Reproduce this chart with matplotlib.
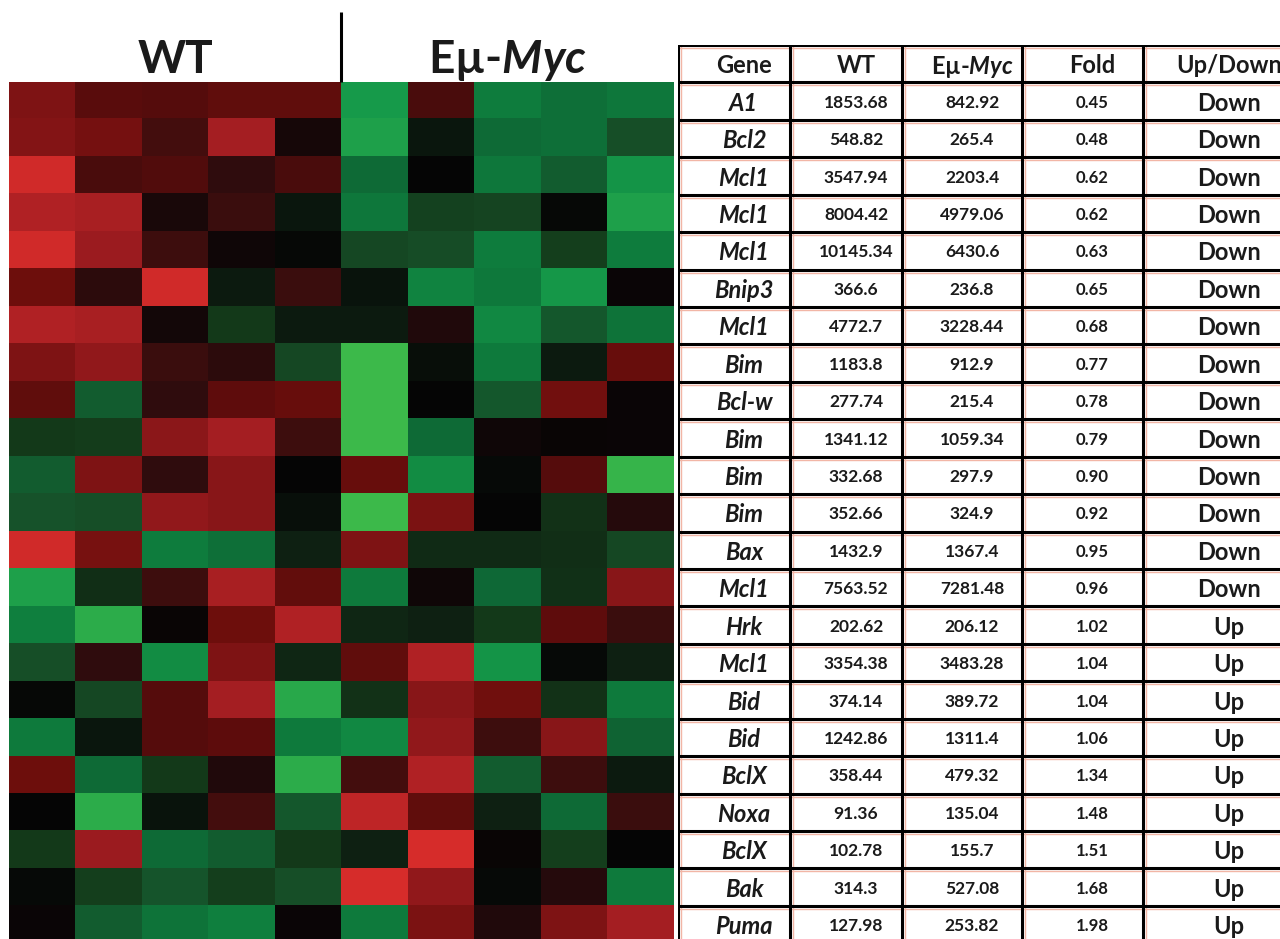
import matplotlib
matplotlib.use("Agg")
import matplotlib.pyplot as plt
import matplotlib.transforms as mtransforms
from matplotlib.colors import LinearSegmentedColormap
import numpy as np

# ---------------------------------------------------------------- data
genes = ["A1", "Bcl2", "Mcl1", "Mcl1", "Mcl1", "Bnip3", "Mcl1", "Bim", "Bcl-w",
         "Bim", "Bim", "Bim", "Bax", "Mcl1", "Hrk", "Mcl1", "Bid", "Bid", "BclX",
         "Noxa", "BclX", "Bak", "Puma"]
wt_mean = [1853.68, 548.82, 3547.94, 8004.42, 10145.34, 366.6, 4772.7, 1183.8,
           277.74, 1341.12, 332.68, 352.66, 1432.9, 7563.52, 202.62, 3354.38,
           374.14, 1242.86, 358.44, 91.36, 102.78, 314.3, 127.98]
myc_mean = [842.92, 265.4, 2203.4, 4979.06, 6430.6, 236.8, 3228.44, 912.9,
            215.4, 1059.34, 297.9, 324.9, 1367.4, 7281.48, 206.12, 3483.28,
            389.72, 1311.4, 479.32, 135.04, 155.7, 527.08, 253.82]
fold = [0.45, 0.48, 0.62, 0.62, 0.63, 0.65, 0.68, 0.77, 0.78, 0.79, 0.90, 0.92,
        0.95, 0.96, 1.02, 1.04, 1.04, 1.06, 1.34, 1.48, 1.51, 1.68, 1.98]
direction = ["Down"] * 14 + ["Up"] * 9

# relative expression per sample (positive = higher, negative = lower)
wt_samples = [
    [0.60, 0.42, 0.40, 0.45, 0.45],
    [0.62, 0.55, 0.30, 0.80, 0.08],
    [0.97, 0.33, 0.38, 0.20, 0.33],
    [0.85, 0.82, 0.10, 0.25, -0.10],
    [0.97, 0.75, 0.27, 0.05, -0.02],
    [0.50, 0.18, 0.97, -0.12, 0.25],
    [0.85, 0.82, 0.07, -0.28, -0.12],
    [0.60, 0.70, 0.25, 0.18, -0.35],
    [0.45, -0.47, 0.20, 0.44, 0.48],
    [-0.28, -0.29, 0.67, 0.80, 0.27],
    [-0.47, 0.60, 0.20, 0.65, 0.00],
    [-0.40, -0.38, 0.70, 0.65, -0.06],
    [0.97, 0.56, -0.68, -0.60, -0.15],
    [-0.88, -0.22, 0.27, 0.82, 0.46],
    [-0.70, -0.93, 0.02, 0.50, 0.85],
    [-0.38, 0.20, -0.77, 0.60, -0.18],
    [-0.02, -0.35, 0.40, 0.80, -0.92],
    [-0.67, -0.10, 0.40, 0.43, -0.67],
    [0.50, -0.57, -0.28, 0.13, -0.93],
    [0.00, -0.93, -0.08, 0.30, -0.43],
    [-0.28, 0.75, -0.57, -0.47, -0.28],
    [-0.03, -0.30, -0.42, -0.30, -0.38],
    [0.03, -0.47, -0.62, -0.70, 0.03],
]
myc_samples = [
    [-0.85, 0.33, -0.68, -0.60, -0.65],
    [-0.88, -0.10, -0.57, -0.60, -0.38],
    [-0.57, 0.00, -0.65, -0.47, -0.82],
    [-0.65, -0.32, -0.33, -0.02, -0.88],
    [-0.35, -0.37, -0.68, -0.30, -0.68],
    [-0.08, -0.72, -0.66, -0.83, 0.03],
    [-0.12, 0.13, -0.75, -0.43, -0.62],
    [-1.00, -0.05, -0.67, -0.12, 0.48],
    [-1.00, 0.00, -0.43, 0.53, 0.03],
    [-1.00, -0.57, 0.05, 0.02, 0.03],
    [0.48, -0.77, -0.03, 0.40, -0.97],
    [-1.00, 0.58, 0.00, -0.24, 0.15],
    [0.60, -0.20, -0.20, -0.22, -0.35],
    [-0.67, 0.05, -0.55, -0.23, 0.65],
    [-0.18, -0.15, -0.28, 0.44, 0.25],
    [0.45, 0.85, -0.82, -0.03, -0.15],
    [-0.24, 0.65, 0.52, -0.24, -0.67],
    [-0.75, 0.70, 0.27, 0.65, -0.52],
    [0.30, 0.85, -0.47, 0.27, -0.12],
    [0.90, 0.45, -0.15, -0.57, 0.25],
    [-0.15, 1.00, 0.02, -0.30, 0.00],
    [1.00, 0.70, -0.03, 0.15, -0.67],
    [-0.67, 0.58, 0.13, 0.60, 0.80],
]
group_labels = ["WT", "E\u00b5-$\\mathit{Myc}$"]
table_header = ["Gene", "WT", "E\u00b5-$\\mathit{Myc}$", "Fold", "Up/Down"]

# ---------------------------------------------------------------- style
plt.rcParams["font.family"] = ["Lato", "DejaVu Sans"]
plt.rcParams["mathtext.fontset"] = "custom"
plt.rcParams["mathtext.rm"] = "Lato:bold"
plt.rcParams["mathtext.it"] = "Lato:italic:bold"
plt.rcParams["mathtext.bf"] = "Lato:bold"

cmap = LinearSegmentedColormap.from_list("green_black_red", [
    (0.000, "#3CB94A"),
    (0.075, "#169A4A"),
    (0.165, "#0E7A3C"),
    (0.225, "#0E6836"),
    (0.300, "#17522A"),
    (0.360, "#143A1A"),
    (0.425, "#0E2012"),
    (0.500, "#050505"),
    (0.575, "#250A0C"),
    (0.625, "#3A0E0E"),
    (0.700, "#550C0C"),
    (0.750, "#6C0E0C"),
    (0.825, "#881618"),
    (0.900, "#A41E22"),
    (1.000, "#D62C2A"),
])

W, H = 1280, 939
fig = plt.figure(figsize=(W / 100, H / 100), dpi=100)
fig.patch.set_facecolor("white")


def px_axes(left, top, right, bottom):
    return fig.add_axes([left / W, 1 - bottom / H, (right - left) / W, (bottom - top) / H])


# ---------------------------------------------------------------- heatmap
n_rows = len(genes)
row_h = 37.45
heat_top = 82
heat_h = n_rows * row_h
heat = np.hstack([np.array(wt_samples), np.array(myc_samples)])

ax = px_axes(9, heat_top, 673, heat_top + heat_h)
ax.imshow(heat, cmap=cmap, vmin=-1, vmax=1, aspect="auto", interpolation="nearest")
ax.set_axis_off()

n_wt = len(wt_samples[0])
n_myc = len(myc_samples[0])
title_y = 1 + 9 / heat_h  # baseline a few px above the grid
tr = mtransforms.blended_transform_factory(ax.transData, ax.transAxes)
title_kw = dict(transform=tr, ha="center", va="baseline", fontsize=33,
                fontweight="bold", color="#1a1a1a")
ax.text((n_wt - 1) / 2, title_y, group_labels[0], **title_kw)
ax.text(n_wt + (n_myc - 1) / 2, title_y, group_labels[1], **title_kw)
ax.plot([n_wt - 0.5, n_wt - 0.5], [1, 1 + 70 / heat_h], transform=tr,
        color="black", lw=2.2, clip_on=False, solid_capstyle="butt")

# ---------------------------------------------------------------- table
col_edges = [0, 112, 224, 344, 465, 617]
tab_left, tab_top = 678, 45
tax = px_axes(tab_left, tab_top, tab_left + col_edges[-1], heat_top + heat_h)
tax.set_xlim(0, col_edges[-1])
tax.set_ylim(n_rows, -1)
tax.set_axis_off()

line_kw = dict(color="black", lw=2.2, solid_capstyle="projecting")
halo_kw = dict(color="#F2B6A6", lw=1.0)
off_v = mtransforms.ScaledTranslation(0, -3 / 100, fig.dpi_scale_trans)
off_h = mtransforms.ScaledTranslation(3 / 100, 0, fig.dpi_scale_trans)
for r in range(-1, n_rows + 1):
    tax.plot([0, col_edges[-1]], [r, r], transform=tax.transData + off_v, **halo_kw)
for x in col_edges:
    tax.plot([x, x], [-1, n_rows], transform=tax.transData + off_h, **halo_kw)
for r in range(-1, n_rows + 1):
    tax.plot([0, col_edges[-1]], [r, r], **line_kw)
for x in col_edges:
    tax.plot([x, x], [-1, n_rows], **line_kw)

centers = [(a + b) / 2 + 10 for a, b in zip(col_edges[:-1], col_edges[1:])]
txt = "#1a1a1a"
for c, label in zip(centers, table_header):
    tax.text(c, -0.5, label, ha="center", va="center_baseline", fontsize=17,
             fontweight="bold", color=txt)

for i in range(n_rows):
    y = i + 0.5
    tax.text(centers[0], y, genes[i], ha="center", va="center_baseline",
             fontsize=17, fontweight="bold", fontstyle="italic", color=txt)
    tax.text(centers[1], y, str(wt_mean[i]), ha="center", va="center_baseline",
             fontsize=12.5, fontweight="bold", color=txt)
    tax.text(centers[2], y, str(myc_mean[i]), ha="center", va="center_baseline",
             fontsize=12.5, fontweight="bold", color=txt)
    tax.text(centers[3], y, f"{fold[i]:.2f}", ha="center", va="center_baseline",
             fontsize=12, fontweight="bold", color=txt)
    tax.text(centers[4], y, direction[i], ha="center", va="center_baseline",
             fontsize=17, fontweight="bold", color=txt)

fig.savefig("out.png", dpi=100, facecolor="white")
